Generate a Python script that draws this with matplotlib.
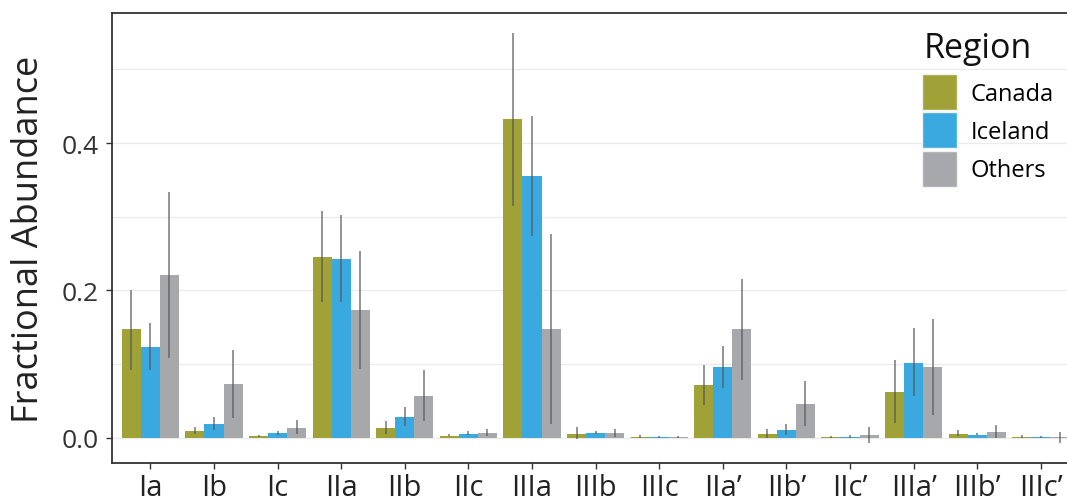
import matplotlib.pyplot as plt
from matplotlib.patches import Patch
import numpy as np

plt.rcParams['font.family'] = ['Open Sans', 'DejaVu Sans']

# haplogroup categories
categories = ["Ia", "Ib", "Ic", "IIa", "IIb", "IIc", "IIIa", "IIIb", "IIIc",
              "IIa’", "IIb’", "IIc’", "IIIa’", "IIIb’", "IIIc’"]

# mean fractional abundance and interval per region
canada = [0.147, 0.0095, 0.0027, 0.246, 0.0136, 0.0027, 0.433, 0.0054, 0.0014,
          0.072, 0.0054, 0.001, 0.0625, 0.0054, 0.0014]
canada_lo = [0.092, 0.0045, 0.001, 0.184, 0.0045, 0.002, 0.315, -0.0023, -0.001,
             0.045, -0.0005, 0.0, 0.02, 0.0018, -0.001]
canada_hi = [0.201, 0.0145, 0.004, 0.308, 0.023, 0.005, 0.5495, 0.0145, 0.004,
             0.099, 0.012, 0.002, 0.106, 0.0109, 0.004]

iceland = [0.1236, 0.019, 0.0068, 0.243, 0.0285, 0.0054, 0.3557, 0.0068, 0.001,
           0.0964, 0.0109, 0.001, 0.1018, 0.004, 0.001]
iceland_lo = [0.092, 0.011, 0.004, 0.184, 0.0154, 0.003, 0.2733, 0.005, 0.0,
              0.068, 0.004, 0.0, 0.056, 0.003, 0.0]
iceland_hi = [0.156, 0.028, 0.009, 0.303, 0.042, 0.009, 0.437, 0.009, 0.002,
              0.125, 0.019, 0.003, 0.149, 0.006, 0.002]

others = [0.2213, 0.0733, 0.0136, 0.1738, 0.057, 0.0068, 0.148, 0.0068, 0.001,
          0.148, 0.0462, 0.004, 0.0964, 0.0081, 0.001]
others_lo = [0.108, 0.0267, 0.0045, 0.0937, 0.0222, 0.0018, 0.018, 0.001, 0.0,
             0.079, 0.0154, -0.0068, 0.0312, -0.001, -0.007]
others_hi = [0.3336, 0.119, 0.0235, 0.2535, 0.0914, 0.0118, 0.277, 0.012, 0.002,
             0.216, 0.0774, 0.0145, 0.1616, 0.0167, 0.008]

regions = ["Canada", "Iceland", "Others"]
colors = ["#A0A237", "#3AA9E0", "#A7A8AB"]

fig = plt.figure(figsize=(10.67, 5.02), dpi=100)
ax = fig.add_axes([0.1052, 0.0751, 0.906, 0.897])

x = np.arange(len(categories))
width = 0.3
series = [(canada, canada_lo, canada_hi), (iceland, iceland_lo, iceland_hi),
          (others, others_lo, others_hi)]

for k, (vals, lo, hi) in enumerate(series):
    pos = x + (k - 1) * width
    ax.bar(pos, vals, width=width, color=colors[k], zorder=2)
    ax.vlines(pos, lo, hi, color="#555555", alpha=0.8, linewidth=1.1, zorder=3)

ax.set_xlim(-0.6, len(categories) - 0.4)
ax.set_ylim(-0.0348, 0.5767)
ax.set_xticks(x)
ax.set_xticklabels(categories, fontsize=21, color="#222222")
ax.set_yticks([0.0, 0.2, 0.4])
ax.set_yticklabels(["0.0", "0.2", "0.4"], fontsize=19, color="#333333")
ax.set_yticks([0.1, 0.3, 0.5], minor=True)
ax.tick_params(which="major", length=4, width=1, color="#333333", pad=3)
ax.tick_params(axis="y", pad=6)
ax.tick_params(which="minor", length=0)
ax.grid(True, which="both", axis="y", color="#EBEBEB", linewidth=1, zorder=0)
ax.set_axisbelow(True)

for side in ["top", "left", "bottom", "right"]:
    ax.spines[side].set_color("#333333")
    ax.spines[side].set_linewidth(1.3)

ax.set_ylabel("Fractional Abundance", fontsize=26, color="#222222")
ax.yaxis.set_label_coords(-0.068, 0.5)

# legend title drawn separately so the gap under it can be set
fig.text(924 / 1067, 1 - 58 / 502, "Region", fontsize=24.5, color="#111111",
         va="baseline", ha="left")
handles = [Patch(facecolor=c, edgecolor="#F2F2F2", linewidth=1) for c in colors]
leg = ax.legend(handles, regions, loc="upper left",
                bbox_to_anchor=(922 / 1067, 1 - 75 / 502),
                bbox_transform=fig.transFigure, frameon=False,
                fontsize=17, handlelength=1.5, handleheight=1.97,
                labelspacing=0.1, handletextpad=0.55,
                borderpad=0, borderaxespad=0)

fig.savefig("out.png", dpi=100)
